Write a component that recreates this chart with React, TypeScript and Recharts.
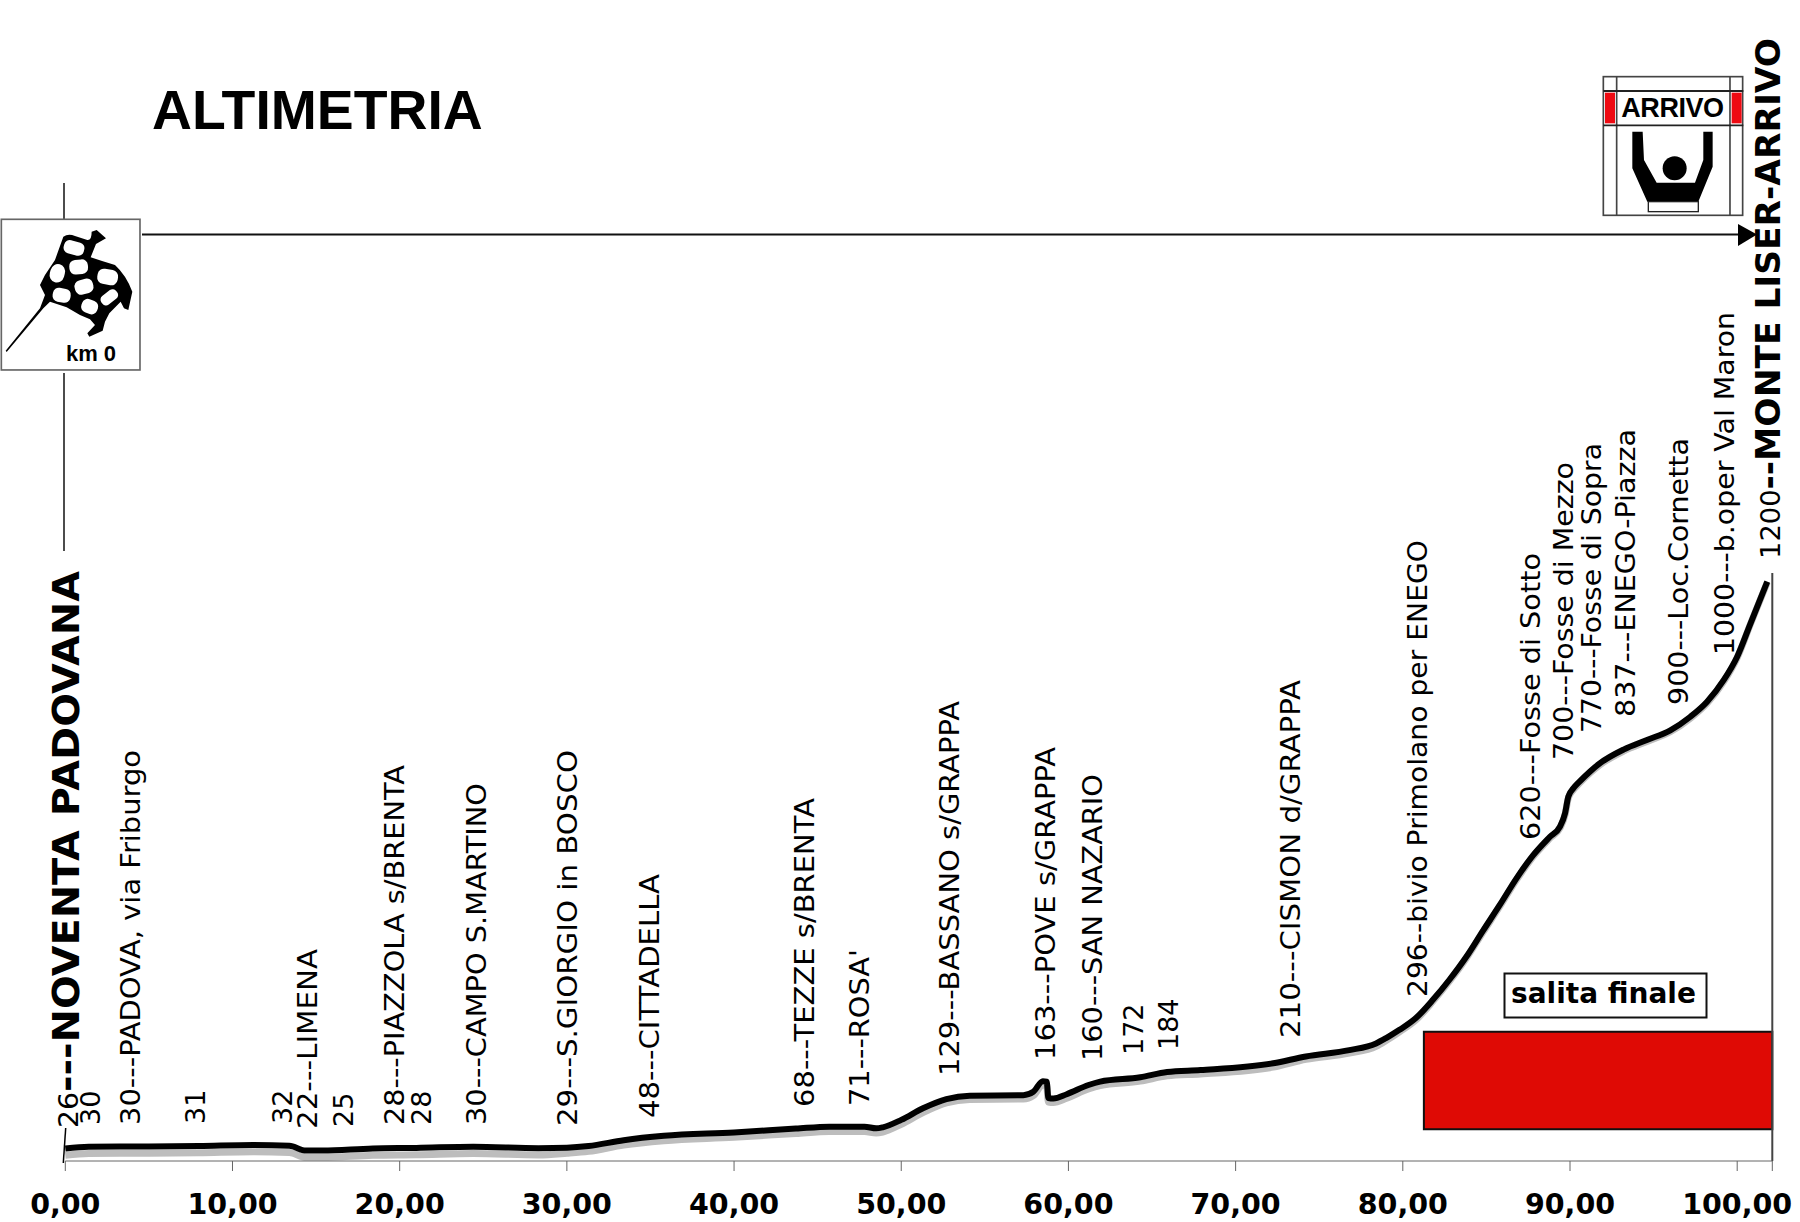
import { ComposedChart, Line, Scatter, XAxis, YAxis, ReferenceArea, ReferenceLine } from "recharts"

// profile: km, altitude, and the grey shadow under the line
const profileKm = [0, 1.4, 5, 8, 11.25, 13.4, 14.4, 15.4, 18.4, 21, 24.4, 28.3, 30, 31.3, 33.4, 35.8, 40, 43.7, 45.7, 47.8, 48.5, 48.9, 50, 51.3, 52.7, 54.1, 57.3, 57.9, 58.47, 58.7, 58.8, 59.1, 59.9, 61.2, 61.9, 64.3, 65.9, 67.9, 72.25, 74.2, 76.8, 78.4, 79, 79.8, 80.8, 81.8, 82.8, 83.8, 84.8, 85.8, 86.8, 87.8, 88.8, 89.4, 89.7, 89.9, 90.2, 90.6, 91.2, 91.8, 93.2, 94.6, 96, 97.2, 98.2, 99.2, 100, 100.8, 101.8]
const profileAlt = [26, 29.5, 30, 31, 33, 31.5, 21.5, 21.5, 26, 27, 29.5, 26.5, 27.5, 31, 43, 52, 59, 67, 71, 71, 67.5, 69.6, 85, 109, 128, 135, 136, 143, 165, 164, 130, 129, 138, 157, 164, 173, 184, 188, 202, 216, 229, 243, 254, 271, 296, 333, 375, 422, 476, 529, 584, 632, 670, 691, 718, 753, 770, 785, 805, 822, 850, 870, 890, 918, 949, 994, 1042, 1111, 1197]
const shadowAlt = [12, 15.5, 16, 17, 19, 17.5, 7.5, 7.5, 12, 13, 15.5, 12.5, 16, 20, 33, 42, 49, 57, 61, 61, 58, 60, 76, 100, 120, 127, 128, 135, 157, 156, 122, 121, 130, 149, 156, 165, 176, 180, 194, 210, 223, 237, 249, 267, 292, 330, 372, 419, 473, 526, 581, 629, 667, 688, 715, 750, 767, 782, 802, 819, 847, 867, 887, 915, 946, 991, 1040, 1110, 1196]

const stationKm = [0.2, 1.5, 3.9, 7.75, 12.95, 14.5, 16.6, 19.7, 21.3, 24.6, 30, 34.95, 44.2, 47.5, 52.85, 58.6, 61.45, 63.85, 65.95, 73.25, 80.85, 87.6, 89.6, 91.3, 93.3, 96.45, 99.2, 101.95]
const stationAlt = [26, 30, 30, 31, 32, 22, 25, 28, 28, 30, 29, 48, 68, 71, 129, 163, 160, 172, 184, 210, 296, 620, 700, 770, 837, 900, 1000, 1200]
const stationName = ["---NOVENTA PADOVANA", "", "---PADOVA, via Friburgo", "", "", "---LIMENA", "", "---PIAZZOLA s/BRENTA", "", "---CAMPO S.MARTINO", "---S.GIORGIO in BOSCO", "---CITTADELLA", "---TEZZE s/BRENTA", "---ROSA'", "---BASSANO s/GRAPPA", "---POVE s/GRAPPA", "---SAN NAZARIO", "", "", "---CISMON d/GRAPPA", "--bivio Primolano per ENEGO", "---Fosse di Sotto", "---Fosse di Mezzo", "---Fosse di Sopra", "---ENEGO-Piazza", "---Loc.Cornetta", "---b.oper Val Maron", "--MONTE LISER-ARRIVO"]

// page y where each rotated label starts and where it ends (0 = leave natural length)
const labelBottom = [1128, 1125, 1125, 1124, 1124, 1129, 1127, 1125, 1125, 1125, 1126, 1118, 1107, 1106, 1076, 1060, 1061, 1055, 1050, 1038, 997, 840, 760, 733, 717, 705, 655, 559]
const labelTop = [571, 0, 750, 0, 0, 949, 0, 765, 0, 783, 750, 874, 798, 949, 701, 747, 774, 0, 0, 680, 540, 553, 462, 443, 429, 438, 312, 38]

const kmTicks = [0, 10, 20, 30, 40, 50, 60, 70, 80, 90, 100, 102.1]
const climbKm = [81.26, 102.1]
const climbBand = [65.5, 267]

const profile = profileKm.map((km, i) => ({ km, alt: profileAlt[i], shadow: shadowAlt[i] }))
const stations = stationKm.map((km, i) => ({ km, alt: stationAlt[i], name: stationName[i], bottom: labelBottom[i], top: labelTop[i] }))

const LABEL_FONT = "'DejaVu Sans', Verdana, sans-serif"
const ARIAL = "'Liberation Sans', Arial, sans-serif"

function StationLabel(props: any) {
    const { cx, payload } = props
    const boldSize = payload.km < 1 ? 38 : payload.km > 101 ? 34 : 0
    const fit = payload.top ? { textLength: payload.bottom - payload.top, lengthAdjust: "spacingAndGlyphs" } : {}
    return (
        <text
            x={cx}
            y={payload.bottom}
            dy="0.36em"
            transform={`rotate(-90 ${cx} ${payload.bottom})`}
            fontFamily={LABEL_FONT}
            fontSize={27}
            fill="#000"
            {...fit}
        >
            {payload.alt}
            {boldSize ? (
                <tspan fontWeight={700} fontSize={boldSize} dy={payload.km < 1 ? 1 : 0}>{payload.name}</tspan>
            ) : (
                payload.name
            )}
        </text>
    )
}

function Cell({ cx, cy, w, h, a }: any) {
    return <rect x={cx - w / 2} y={cy - h / 2} width={w} height={h} rx={h * 0.42} fill="#fff" transform={`rotate(${a} ${cx} ${cy})`} />
}

function FlagIcon() {
    return (
        <g transform="scale(0.3333)">
            <rect x={4} y={658} width={416} height={452} fill="#fff" stroke="#666" strokeWidth={5} />
            <path
                d="M190 710 Q205 700 225 708 L262 720 Q275 722 275 695 L290 690 L318 715 L288 732 L272 772 Q310 785 345 795 Q378 825 397 875 L385 930 L372 925 L362 905 L328 940 L315 965 L308 992 L268 1010 L262 1000 L285 975 L270 958 L240 945 L200 922 L150 905 L130 925 L20 1056 L17 1052 L120 925 L135 885 L120 855 L135 825 L165 780 Z"
                fill="#000"
            />
            <Cell cx={222} cy={744} w={62} h={40} a={15} />
            <Cell cx={172} cy={820} w={44} h={56} a={15} />
            <Cell cx={236} cy={801} w={56} h={44} a={-5} />
            <Cell cx={323} cy={831} w={62} h={46} a={10} />
            <Cell cx={252} cy={860} w={56} h={44} a={-15} />
            <Cell cx={185} cy={886} w={54} h={42} a={10} />
            <Cell cx={328} cy={892} w={56} h={32} a={-38} />
            <Cell cx={269} cy={920} w={50} h={42} a={20} />
            <text x={198} y={1083} fontFamily={ARIAL} fontWeight={700} fontSize={66} fill="#000">km 0</text>
        </g>
    )
}

function ArrivoIcon() {
    return (
        <g transform="translate(1560 20) scale(0.3333)">
            <rect x={130} y={170} width={418} height={416} fill="#fff" stroke="#444" strokeWidth={5} />
            <line x1={170} y1={170} x2={170} y2={586} stroke="#444" strokeWidth={5} />
            <line x1={510} y1={170} x2={510} y2={586} stroke="#444" strokeWidth={5} />
            <line x1={130} y1={213} x2={550} y2={213} stroke="#222" strokeWidth={6} />
            <line x1={130} y1={316} x2={550} y2={316} stroke="#222" strokeWidth={5} />
            <rect x={135} y={218} width={30} height={92} fill="#ee0a12" />
            <rect x={515} y={218} width={30} height={92} fill="#ee0a12" />
            <text x={184} y={290} fontFamily={ARIAL} fontWeight={700} fontSize={81} fill="#000" textLength={308}>ARRIVO</text>
            <path d="M217 335 L248 335 L252 420 L290 488 L405 488 L430 420 L430 335 L458 335 L458 440 L415 545 L262 545 L217 445 Z" fill="#000" />
            <circle cx={344} cy={445} r={36} fill="#000" />
            <rect x={265} y={545} width={150} height={30} fill="#fff" stroke="#222" strokeWidth={4} />
        </g>
    )
}

function Overlay() {
    return (
        <svg width={1800} height={1222} style={{ position: "absolute", left: 0, top: 0 }}>
            <text x={152} y={129} fontFamily={ARIAL} fontWeight={700} fontSize={55.3} fill="#000">ALTIMETRIA</text>
            <line x1={64} y1={183} x2={64} y2={219} stroke="#111" strokeWidth={1.5} />
            <line x1={64} y1={373} x2={64} y2={551} stroke="#111" strokeWidth={1.5} />
            <FlagIcon />
            <line x1={142} y1={234.5} x2={1740} y2={234.5} stroke="#111" strokeWidth={2} />
            <path d="M1738 224 L1757 234.5 L1738 246 Z" fill="#000" />
            <ArrivoIcon />
            <line x1={65.7} y1={1128} x2={63.3} y2={1163} stroke="#000" strokeWidth={1.5} />
            <rect x={1504.5} y={973.5} width={202} height={44} fill="#fff" stroke="#111" strokeWidth={2} />
            <text x={1511} y={1003} fontFamily={LABEL_FONT} fontWeight={700} fontSize={28} fill="#000">salita finale</text>
        </svg>
    )
}

export default function App() {
    return (
        <div style={{ position: "absolute", left: 0, top: 0, width: 1800, height: 1222, background: "#fff" }}>
            <ComposedChart
                width={1800}
                height={1222}
                data={profile}
                margin={{ top: 573, right: 27.7, left: 65.3, bottom: 0 }}
            >
                <XAxis
                    dataKey="km"
                    type="number"
                    domain={[0, 102.1]}
                    ticks={kmTicks}
                    interval={0}
                    height={61}
                    tickSize={10}
                    tickMargin={23}
                    stroke="#666"
                    tick={{ fontFamily: LABEL_FONT, fontWeight: 700, fontSize: 28.5, fill: "#000" }}
                    tickFormatter={(v: number) => (v > 100 ? "" : v.toFixed(2).replace(".", ","))}
                />
                <YAxis type="number" domain={[0, 1215]} hide />
                <ReferenceArea
                    x1={climbKm[0]}
                    x2={climbKm[1]}
                    y1={climbBand[0]}
                    y2={climbBand[1]}
                    fill="#df0a05"
                    fillOpacity={1}
                    stroke="#111"
                    strokeWidth={2}
                />
                <ReferenceLine x={102.1} stroke="#444" strokeWidth={2} />
                <Line dataKey="shadow" type="monotone" stroke="#bdbdbd" strokeWidth={7} dot={false} activeDot={false} isAnimationActive={false} />
                <Line dataKey="alt" type="monotone" stroke="#000" strokeWidth={6} dot={false} activeDot={false} isAnimationActive={false} />
                <Scatter data={stations} dataKey="alt" shape={StationLabel} isAnimationActive={false} />
            </ComposedChart>
            <Overlay />
        </div>
    )
}
